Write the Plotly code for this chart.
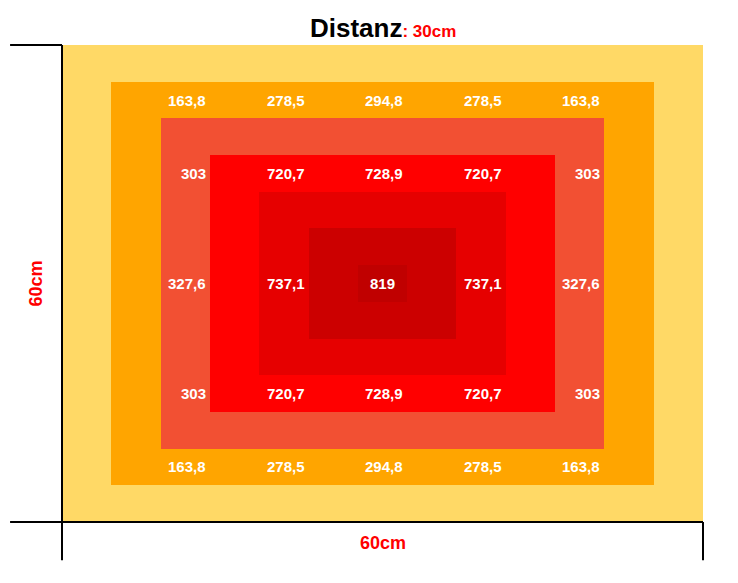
import plotly.graph_objects as go

# ring colours, index = ring number (0 = centre cell, 6 = outer ring)
ring_colors = ["#C00000", "#CC0000", "#E60000", "#FF0000", "#F25033", "#FFA500", "#FFD966"]

# 13 x 13 grid of ring numbers (nested rectangles)
ring_grid = [
    [6, 6, 6, 6, 6, 6, 6, 6, 6, 6, 6, 6, 6],
    [6, 5, 5, 5, 5, 5, 5, 5, 5, 5, 5, 5, 6],
    [6, 5, 4, 4, 4, 4, 4, 4, 4, 4, 4, 5, 6],
    [6, 5, 4, 3, 3, 3, 3, 3, 3, 3, 4, 5, 6],
    [6, 5, 4, 3, 2, 2, 2, 2, 2, 3, 4, 5, 6],
    [6, 5, 4, 3, 2, 1, 1, 1, 2, 3, 4, 5, 6],
    [6, 5, 4, 3, 2, 1, 0, 1, 2, 3, 4, 5, 6],
    [6, 5, 4, 3, 2, 1, 1, 1, 2, 3, 4, 5, 6],
    [6, 5, 4, 3, 2, 2, 2, 2, 2, 3, 4, 5, 6],
    [6, 5, 4, 3, 3, 3, 3, 3, 3, 3, 4, 5, 6],
    [6, 5, 4, 4, 4, 4, 4, 4, 4, 4, 4, 5, 6],
    [6, 5, 5, 5, 5, 5, 5, 5, 5, 5, 5, 5, 6],
    [6, 6, 6, 6, 6, 6, 6, 6, 6, 6, 6, 6, 6],
]

# measured values and the grid cells they sit in
label_rows = [1, 3, 6, 9, 11]
label_cols = [2, 4, 6, 8, 10]
label_values = [
    ["163,8", "278,5", "294,8", "278,5", "163,8"],
    ["303", "720,7", "728,9", "720,7", "303"],
    ["327,6", "737,1", "819", "737,1", "327,6"],
    ["303", "720,7", "728,9", "720,7", "303"],
    ["163,8", "278,5", "294,8", "278,5", "163,8"],
]

title_main = "Distanz"
title_sub = ": 30cm"
side_label = "60cm"

n = len(ring_colors)
colorscale = []
for i, c in enumerate(ring_colors):
    colorscale.append([i / n, c])
    colorscale.append([(i + 1) / n, c])

fig = go.Figure(go.Heatmap(
    z=ring_grid,
    colorscale=colorscale,
    zmin=-0.5, zmax=n - 0.5,
    showscale=False,
    hoverinfo="skip",
))

annotations = []
for ri, r in enumerate(label_rows):
    for ci, c in enumerate(label_cols):
        centre = ring_grid[r][c] == 0
        annotations.append(dict(
            x=c if centre else c + 0.5, y=r, xref="x", yref="y",
            text="<b>%s</b>" % label_values[ri][ci],
            showarrow=False,
            xanchor="center" if centre else "right",
            xshift=0 if centre else -2,
            font=dict(family="Liberation Sans", size=15, color="white"),
        ))

annotations.append(dict(
    x=0.5, y=1.036, xref="paper", yref="paper", showarrow=False,
    xanchor="center", yanchor="middle",
    text="<b>%s</b><span style='font-size:17px;color:#FF0000'><b>%s</b></span>" % (title_main, title_sub),
    font=dict(family="Liberation Sans", size=26, color="black"),
))
annotations.append(dict(
    x=0.5, y=-0.044, xref="paper", yref="paper", showarrow=False,
    xanchor="center", yanchor="middle",
    text="<b>%s</b>" % side_label,
    font=dict(family="Liberation Sans", size=18, color="#FF0000"),
))
annotations.append(dict(
    x=-0.0406, y=0.5, xref="paper", yref="paper", showarrow=False,
    xanchor="center", yanchor="middle", textangle=-90,
    text="<b>%s</b>" % side_label,
    font=dict(family="Liberation Sans", size=18, color="#FF0000"),
))

line = dict(color="black", width=2)
shapes = [
    dict(type="line", xref="paper", yref="paper", x0=-0.081, x1=0, y0=1, y1=1, line=line),
    dict(type="line", xref="paper", yref="paper", x0=0, x1=0, y0=1, y1=-0.08, line=line),
    dict(type="line", xref="paper", yref="paper", x0=-0.081, x1=1, y0=0, y1=0, line=line),
    dict(type="line", xref="paper", yref="paper", x0=1, x1=1, y0=0, y1=-0.08, line=line),
]

fig.update_layout(
    width=730, height=575,
    margin=dict(l=54, r=35, t=37, b=61),
    paper_bgcolor="white", plot_bgcolor="white",
    annotations=annotations, shapes=shapes,
    xaxis=dict(range=[-0.5, 12.5], visible=False, fixedrange=True),
    yaxis=dict(range=[12.5, -0.5], visible=False, fixedrange=True),
)

fig.write_html("out.html")
